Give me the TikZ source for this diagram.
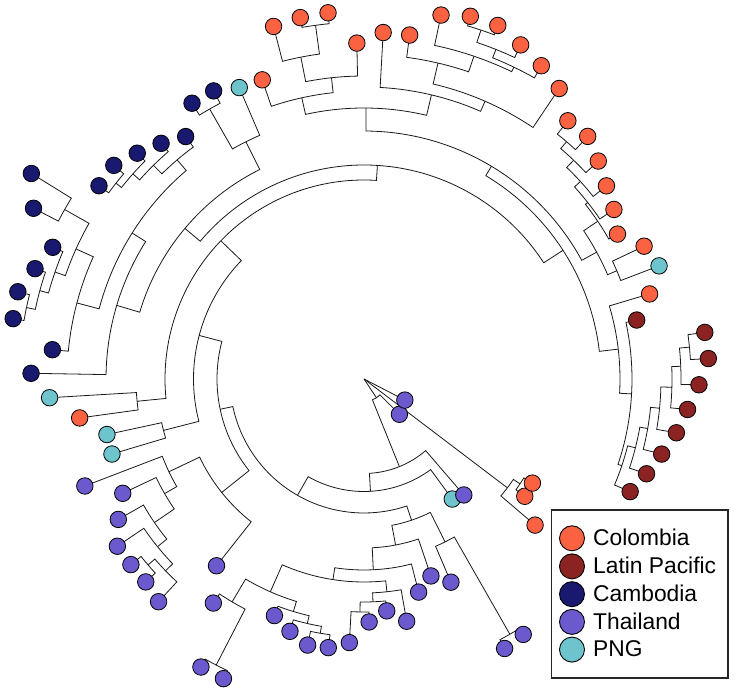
\documentclass[tikz,border=0pt]{standalone}
\usepackage{fontspec}
\setmainfont{Liberation Sans}
\definecolor{colom}{RGB}{250,98,66}
\definecolor{latpac}{RGB}{139,35,35}
\definecolor{camb}{RGB}{25,25,112}
\definecolor{thai}{RGB}{106,90,205}
\definecolor{png}{RGB}{110,196,204}
\tikzset{
  branch/.style={draw=black!90, line width=0.8pt},
  tipc/.style={circle, draw=black, line width=0.8pt, minimum size=16.5pt, inner sep=0pt},
  legc/.style={circle, draw=black, line width=0.9pt, minimum size=25pt, inner sep=0pt},
  legt/.style={inner sep=0pt, anchor=base west, font=\fontsize{22.8}{27}\selectfont}
}
% tip: name, index, radius, colour
\newcommand\Tip[4]{%
  \pgfmathsetmacro\tipang{12.2+4.39*(#2-1)}%
  \ifnum#2>74\relax\pgfmathsetmacro\tipang{\tipang-360}\fi
  \expandafter\xdef\csname ANG#1\endcsname{\tipang}%
  \expandafter\xdef\csname COL#1\endcsname{#4}%
  \coordinate (#1) at (\tipang:#3pt);%
}
% internal node: name, child1, child2, radius
\newcommand\Inn[4]{%
  \edef\angA{\csname ANG#2\endcsname}%
  \edef\angB{\csname ANG#3\endcsname}%
  \pgfmathsetmacro\angM{(\angA+\angB)/2}%
  \expandafter\xdef\csname ANG#1\endcsname{\angM}%
  \coordinate (#1) at (\angM:#4pt);%
  \coordinate (#2-f) at (\angA:#4pt);%
  \coordinate (#3-f) at (\angB:#4pt);%
  \draw[branch] (#2) -- (#2-f) arc[start angle=\angA, end angle=\angB, radius=#4pt] -- (#3);%
}
\begin{document}
\begin{tikzpicture}
\path[use as bounding box] (0pt,0pt) rectangle (734pt,693pt);
\begin{scope}[shift={(364pt,314pt)}]
\coordinate (O) at (0pt,0pt);
% tips
\Tip{t1}{1}{279}{latpac}
\Tip{t2}{2}{298}{colom}
\Tip{t3}{3}{316}{png}
\Tip{t4}{4}{310}{colom}
\Tip{t5}{5}{292}{colom}
\Tip{t6}{6}{302}{colom}
\Tip{t7}{7}{310}{colom}
\Tip{t8}{8}{320}{colom}
\Tip{t9}{9}{330}{colom}
\Tip{t10}{10}{329}{colom}
\Tip{t11}{11}{350}{colom}
\Tip{t12}{12}{360}{colom}
\Tip{t13}{13}{369}{colom}
\Tip{t14}{14}{378}{colom}
\Tip{t15}{15}{378}{colom}
\Tip{t16}{16}{372}{colom}
\Tip{t17}{17}{347}{colom}
\Tip{t18}{18}{347}{colom}
\Tip{t19}{19}{336}{colom}
\Tip{t20}{20}{368}{colom}
\Tip{t21}{21}{367}{colom}
\Tip{t22}{22}{364}{colom}
\Tip{t23}{23}{316}{colom}
\Tip{t24}{24}{317}{png}
\Tip{t25}{25}{325}{camb}
\Tip{t26}{26}{325}{camb}
\Tip{t27}{27}{301}{camb}
\Tip{t28}{28}{311}{camb}
\Tip{t29}{29}{320}{camb}
\Tip{t30}{30}{329}{camb}
\Tip{t31}{31}{328}{camb}
\Tip{t32}{32}{391}{camb}
\Tip{t33}{33}{372}{camb}
\Tip{t34}{34}{338}{camb}
\Tip{t35}{35}{347}{camb}
\Tip{t36}{36}{357}{camb}
\Tip{t37}{37}{356}{camb}
\Tip{t38}{38}{313}{camb}
\Tip{t39}{39}{333}{camb}
\Tip{t40}{40}{315}{png}
\Tip{t41}{41}{287}{colom}
\Tip{t42}{42}{263}{png}
\Tip{t43}{43}{263}{png}
\Tip{t44}{44}{299}{thai}
\Tip{t45}{45}{267}{thai}
\Tip{t46}{46}{283}{thai}
\Tip{t47}{47}{298}{thai}
\Tip{t48}{48}{298}{thai}
\Tip{t49}{49}{298}{thai}
\Tip{t50}{50}{303}{thai}
\Tip{t51}{51}{238}{thai}
\Tip{t52}{52}{270}{thai}
\Tip{t53}{53}{331}{thai}
\Tip{t54}{54}{331}{thai}
\Tip{t55}{55}{253}{thai}
\Tip{t56}{56}{263}{thai}
\Tip{t57}{57}{272}{thai}
\Tip{t58}{58}{271}{thai}
\Tip{t59}{59}{264}{thai}
\Tip{t60}{60}{243}{thai}
\Tip{t61}{61}{233}{thai}
\Tip{t62}{62}{246}{thai}
\Tip{t63}{63}{220}{thai}
\Tip{t64}{64}{208}{thai}
\Tip{t65}{65}{221}{thai}
\Tip{t66}{66}{304}{thai}
\Tip{t67}{67}{301}{thai}
\Tip{t68}{68}{149}{png}
\Tip{t69}{69}{153}{thai}
\Tip{t70}{70}{50}{thai}
\Tip{t71}{71}{225}{colom}
\Tip{t72}{72}{199}{colom}
\Tip{t73}{73}{198}{colom}
\Tip{t74}{74}{46}{thai}
\Tip{t75}{75}{289}{latpac}
\Tip{t76}{76}{298}{latpac}
\Tip{t77}{77}{307}{latpac}
\Tip{t78}{78}{317}{latpac}
\Tip{t79}{79}{325}{latpac}
\Tip{t80}{80}{335}{latpac}
\Tip{t81}{81}{345}{latpac}
\Tip{t82}{82}{344}{latpac}
% Latin Pacific ladder
\Inn{L6}{t81}{t82}{327}
\Inn{L5}{t80}{L6}{317}
\Inn{L4}{t79}{L5}{308}
\Inn{L3}{t78}{L4}{297}
\Inn{L2}{t77}{L3}{288}
\Inn{L1}{t76}{L2}{280}
\Inn{L0}{t75}{L1}{272}
\Inn{A}{L0}{t1}{268}
\Inn{B}{A}{t2}{256}
% right Colombia
\Inn{G}{t3}{t4}{275}
\Inn{X1}{t9}{t10}{312}
\Inn{X2}{t8}{X1}{303}
\Inn{X3}{t7}{X2}{293}
\Inn{X4}{t6}{X3}{285}
\Inn{X5}{t5}{X4}{282}
\Inn{X6}{G}{X5}{265}
% top Colombia
\Inn{M6}{t14}{t15}{368}
\Inn{M5}{t13}{M6}{355}
\Inn{M4}{t12}{M5}{346}
\Inn{M3}{M4}{t16}{341}
\Inn{M2}{M3}{t17}{324.5}
\Inn{M1}{t11}{M2}{303}
\Inn{M0}{M1}{t18}{292}
\Inn{N1}{t20}{t21}{357}
\Inn{Na}{N1}{t22}{328}
\Inn{Nb}{t19}{Na}{303}
\Inn{Nc}{Nb}{t23}{288}
\Inn{T}{M0}{Nc}{271}
\Inn{R}{X6}{T}{248}
\Inn{Q}{B}{R}{237}
% Cambodia
\Inn{V1}{t25}{t26}{311}
\Inn{V}{t24}{V1}{265}
\Inn{K3}{t30}{t31}{316}
\Inn{K2}{t29}{K3}{309}
\Inn{K1}{t28}{K2}{300}
\Inn{K}{t27}{K1}{288}
\Inn{P32}{t32}{t33}{344}
\Inn{W6}{t36}{t37}{345}
\Inn{W5}{t35}{W6}{336}
\Inn{W4}{t34}{W5}{327}
\Inn{W3}{P32}{W4}{316}
\Inn{W2}{W3}{t38}{297}
\Inn{W1}{K}{W2}{274}
\Inn{W}{W1}{t39}{258}
\Inn{U}{V}{W}{234}
\Inn{S}{Q}{U}{214}
\Inn{Y1}{t40}{t41}{228}
\Inn{S0}{S}{Y1}{199}
\Inn{Y2}{t42}{t43}{207}
\Inn{S1}{S0}{Y2}{170.5}
% Thailand left
\Inn{Y9}{t48}{t49}{285}
\Inn{Y8}{Y9}{t50}{276}
\Inn{Y7}{t47}{Y8}{266}
\Inn{Y6}{t46}{Y7}{254}
\Inn{Y5}{t45}{Y6}{230}
\Inn{Y4}{t44}{Y5}{216}
\Inn{Y3}{Y4}{t51}{182}
\Inn{S2}{S1}{Y3}{147}
% Thailand bottom
\Inn{Z14}{t53}{t54}{322}
\Inn{Z12}{t52}{Z14}{259}
\Inn{Z16}{t57}{t58}{258}
\Inn{Z15}{t56}{Z16}{251}
\Inn{Z13}{t55}{Z15}{243}
\Inn{Z9}{Z12}{Z13}{232.5}
\Inn{Z17}{t59}{t60}{233}
\Inn{Z11}{Z17}{t61}{223}
\Inn{Z10}{Z11}{t62}{214}
\Inn{Z8}{Z9}{Z10}{203}
\Inn{Z6}{Z8}{t63}{191}
\Inn{Z5}{Z6}{t64}{169}
\Inn{Z18}{t66}{t67}{294}
\Inn{Z4}{t65}{Z18}{182}
\Inn{Z1}{Z5}{Z4}{149}
\Inn{S3}{S2}{Z1}{134}
\Inn{S4}{S3}{t68}{112.5}
\Inn{S5}{S4}{t69}{94.5}
\Inn{S6}{S5}{t70}{22.5}
\Inn{R1}{t72}{t73}{188}
\Inn{R0}{t71}{R1}{180}
% root
\draw[branch] (O) -- (S6);
\draw[branch] (O) -- (R0);
\draw[branch] (O) -- (t74);
% tip circles
\foreach \i in {1,...,82}{%
  \edef\cc{\csname COLt\i\endcsname}%
  \node[tipc, fill=\cc] (c\i) at (t\i) {};
}
\end{scope}
% legend
\draw[line width=1.2pt, black!85] (551.5pt,15pt) rectangle (728pt,183pt);
\node[legc, fill=colom]  (lg1) at (572pt,154.7pt) {};
\node[legc, fill=latpac] (lg2) at (572pt,126.6pt) {};
\node[legc, fill=camb]   (lg3) at (572pt,98.8pt) {};
\node[legc, fill=thai]   (lg4) at (572pt,71.1pt) {};
\node[legc, fill=png]    (lg5) at (572pt,43.4pt) {};
\node[legt] (lt1) at (593pt,147.3pt) {Colombia};
\node[legt] (lt2) at (593pt,119.2pt) {Latin Pacific};
\node[legt] (lt3) at (593pt,91.4pt) {Cambodia};
\node[legt] (lt4) at (593pt,63.7pt) {Thailand};
\node[legt] (lt5) at (593pt,36.0pt) {PNG};
\end{tikzpicture}
\end{document}
